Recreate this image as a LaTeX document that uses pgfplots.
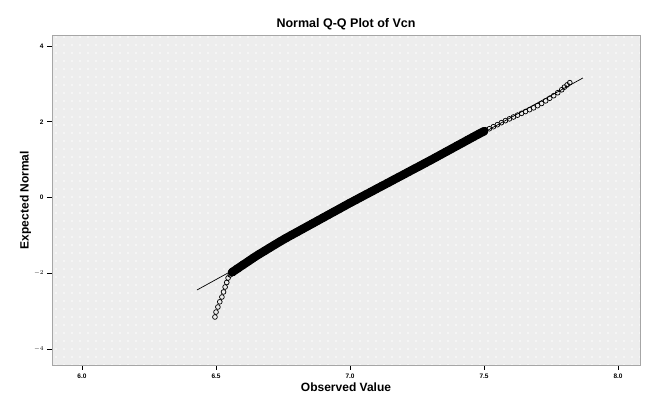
\documentclass[border=0pt]{standalone}
\usepackage{pgfplots}
\pgfplotsset{compat=1.18}
\usepackage{fontspec}
\setmainfont{Liberation Sans}
\usetikzlibrary{patterns}
\pgfdeclarepatternformonly{sparsedots}{\pgfqpoint{-1pt}{-1pt}}{\pgfqpoint{1pt}{1pt}}{\pgfqpoint{8pt}{8pt}}{\pgfpathcircle{\pgfqpoint{0pt}{0pt}}{0.8pt}\pgfusepath{fill}}
\begin{document}
\begin{tikzpicture}
\begin{axis}[
  scale only axis, width=588pt, height=330pt,
  xmin=5.888, xmax=8.082, ymin=-4.417, ymax=4.29,
  xtick={6.0,6.5,7.0,7.5,8.0},
  xticklabels={6.0,6.5,7.0,7.5,8.0},
  ytick={-4,-2,0,2,4},
  yticklabels={$-4$,$-2$,0,2,4},
  tick align=outside, tick pos=left,
  major tick length=5pt,
  tick style={black, line width=0.9pt},
  ticklabel style={font=\fontsize{6.5}{8}\selectfont\bfseries},
  axis line style={draw=black!35, line width=0.8pt},
  axis background/.style={fill=black!7, postaction={pattern=sparsedots, pattern color=white}},
  title={\fontsize{12.5}{14}\selectfont\bfseries Normal Q-Q Plot of Vcn},
  title style={yshift=-4pt},
  xlabel={\fontsize{12}{14}\selectfont\bfseries Observed Value},
  ylabel={\fontsize{12}{14}\selectfont\bfseries Expected Normal},
  xlabel style={yshift=2pt},
  ylabel style={yshift=-4pt},
  clip=false,
]
\pgfplotstableread{
x y
6.56 -1.970
6.58 -1.874
6.60 -1.778
6.62 -1.684
6.64 -1.588
6.66 -1.497
6.68 -1.412
6.70 -1.326
6.72 -1.240
6.74 -1.155
6.76 -1.073
6.78 -0.995
6.80 -0.918
6.82 -0.840
6.84 -0.762
6.86 -0.685
6.88 -0.607
6.90 -0.529
6.92 -0.452
6.94 -0.374
6.96 -0.297
6.98 -0.219
7.00 -0.141
7.02 -0.067
7.04 0.009
7.06 0.084
7.08 0.158
7.10 0.234
7.12 0.309
7.14 0.383
7.16 0.459
7.18 0.534
7.20 0.608
7.22 0.684
7.24 0.759
7.26 0.833
7.28 0.909
7.30 0.984
7.32 1.061
7.34 1.138
7.36 1.215
7.38 1.292
7.40 1.370
7.42 1.446
7.44 1.524
7.46 1.601
7.48 1.677
7.50 1.750
}\middata
% reference line
\addplot[black, line width=0.7pt, no marks] coordinates {(6.429,-2.438) (7.869,3.156)};
% dense middle of the distribution (overlapping points form a solid band)
\addplot[black, line width=8.5pt, line cap=round, line join=round, no marks] table {\middata};
\addplot[only marks, mark=*, mark size=4pt, mark options={fill=black, draw=black}] table {\middata};
% tails: open circles
\addplot[only marks, mark=o, mark size=2.4pt, mark options={draw=black, line width=0.7pt}] coordinates {
(6.496,-3.150) (6.500,-3.020) (6.507,-2.887) (6.514,-2.750) (6.522,-2.623) (6.528,-2.490)
(6.534,-2.359) (6.540,-2.240) (6.545,-2.121) (6.553,-2.040) (6.563,-1.963)
(7.505,1.790) (7.52,1.817) (7.535,1.870) (7.55,1.924) (7.565,1.977) (7.58,2.030) (7.595,2.078)
(7.61,2.127) (7.625,2.175) (7.64,2.223) (7.655,2.271) (7.67,2.320) (7.685,2.368)
(7.70,2.426) (7.715,2.484) (7.73,2.553) (7.745,2.621) (7.76,2.689) (7.775,2.767)
(7.79,2.846) (7.80,2.915) (7.81,2.973) (7.82,3.032)
};
\end{axis}
\path ([shift={(-52pt,-40pt)}]current axis.south west) rectangle ([shift={(10pt,35pt)}]current axis.north east);
\end{tikzpicture}
\end{document}
